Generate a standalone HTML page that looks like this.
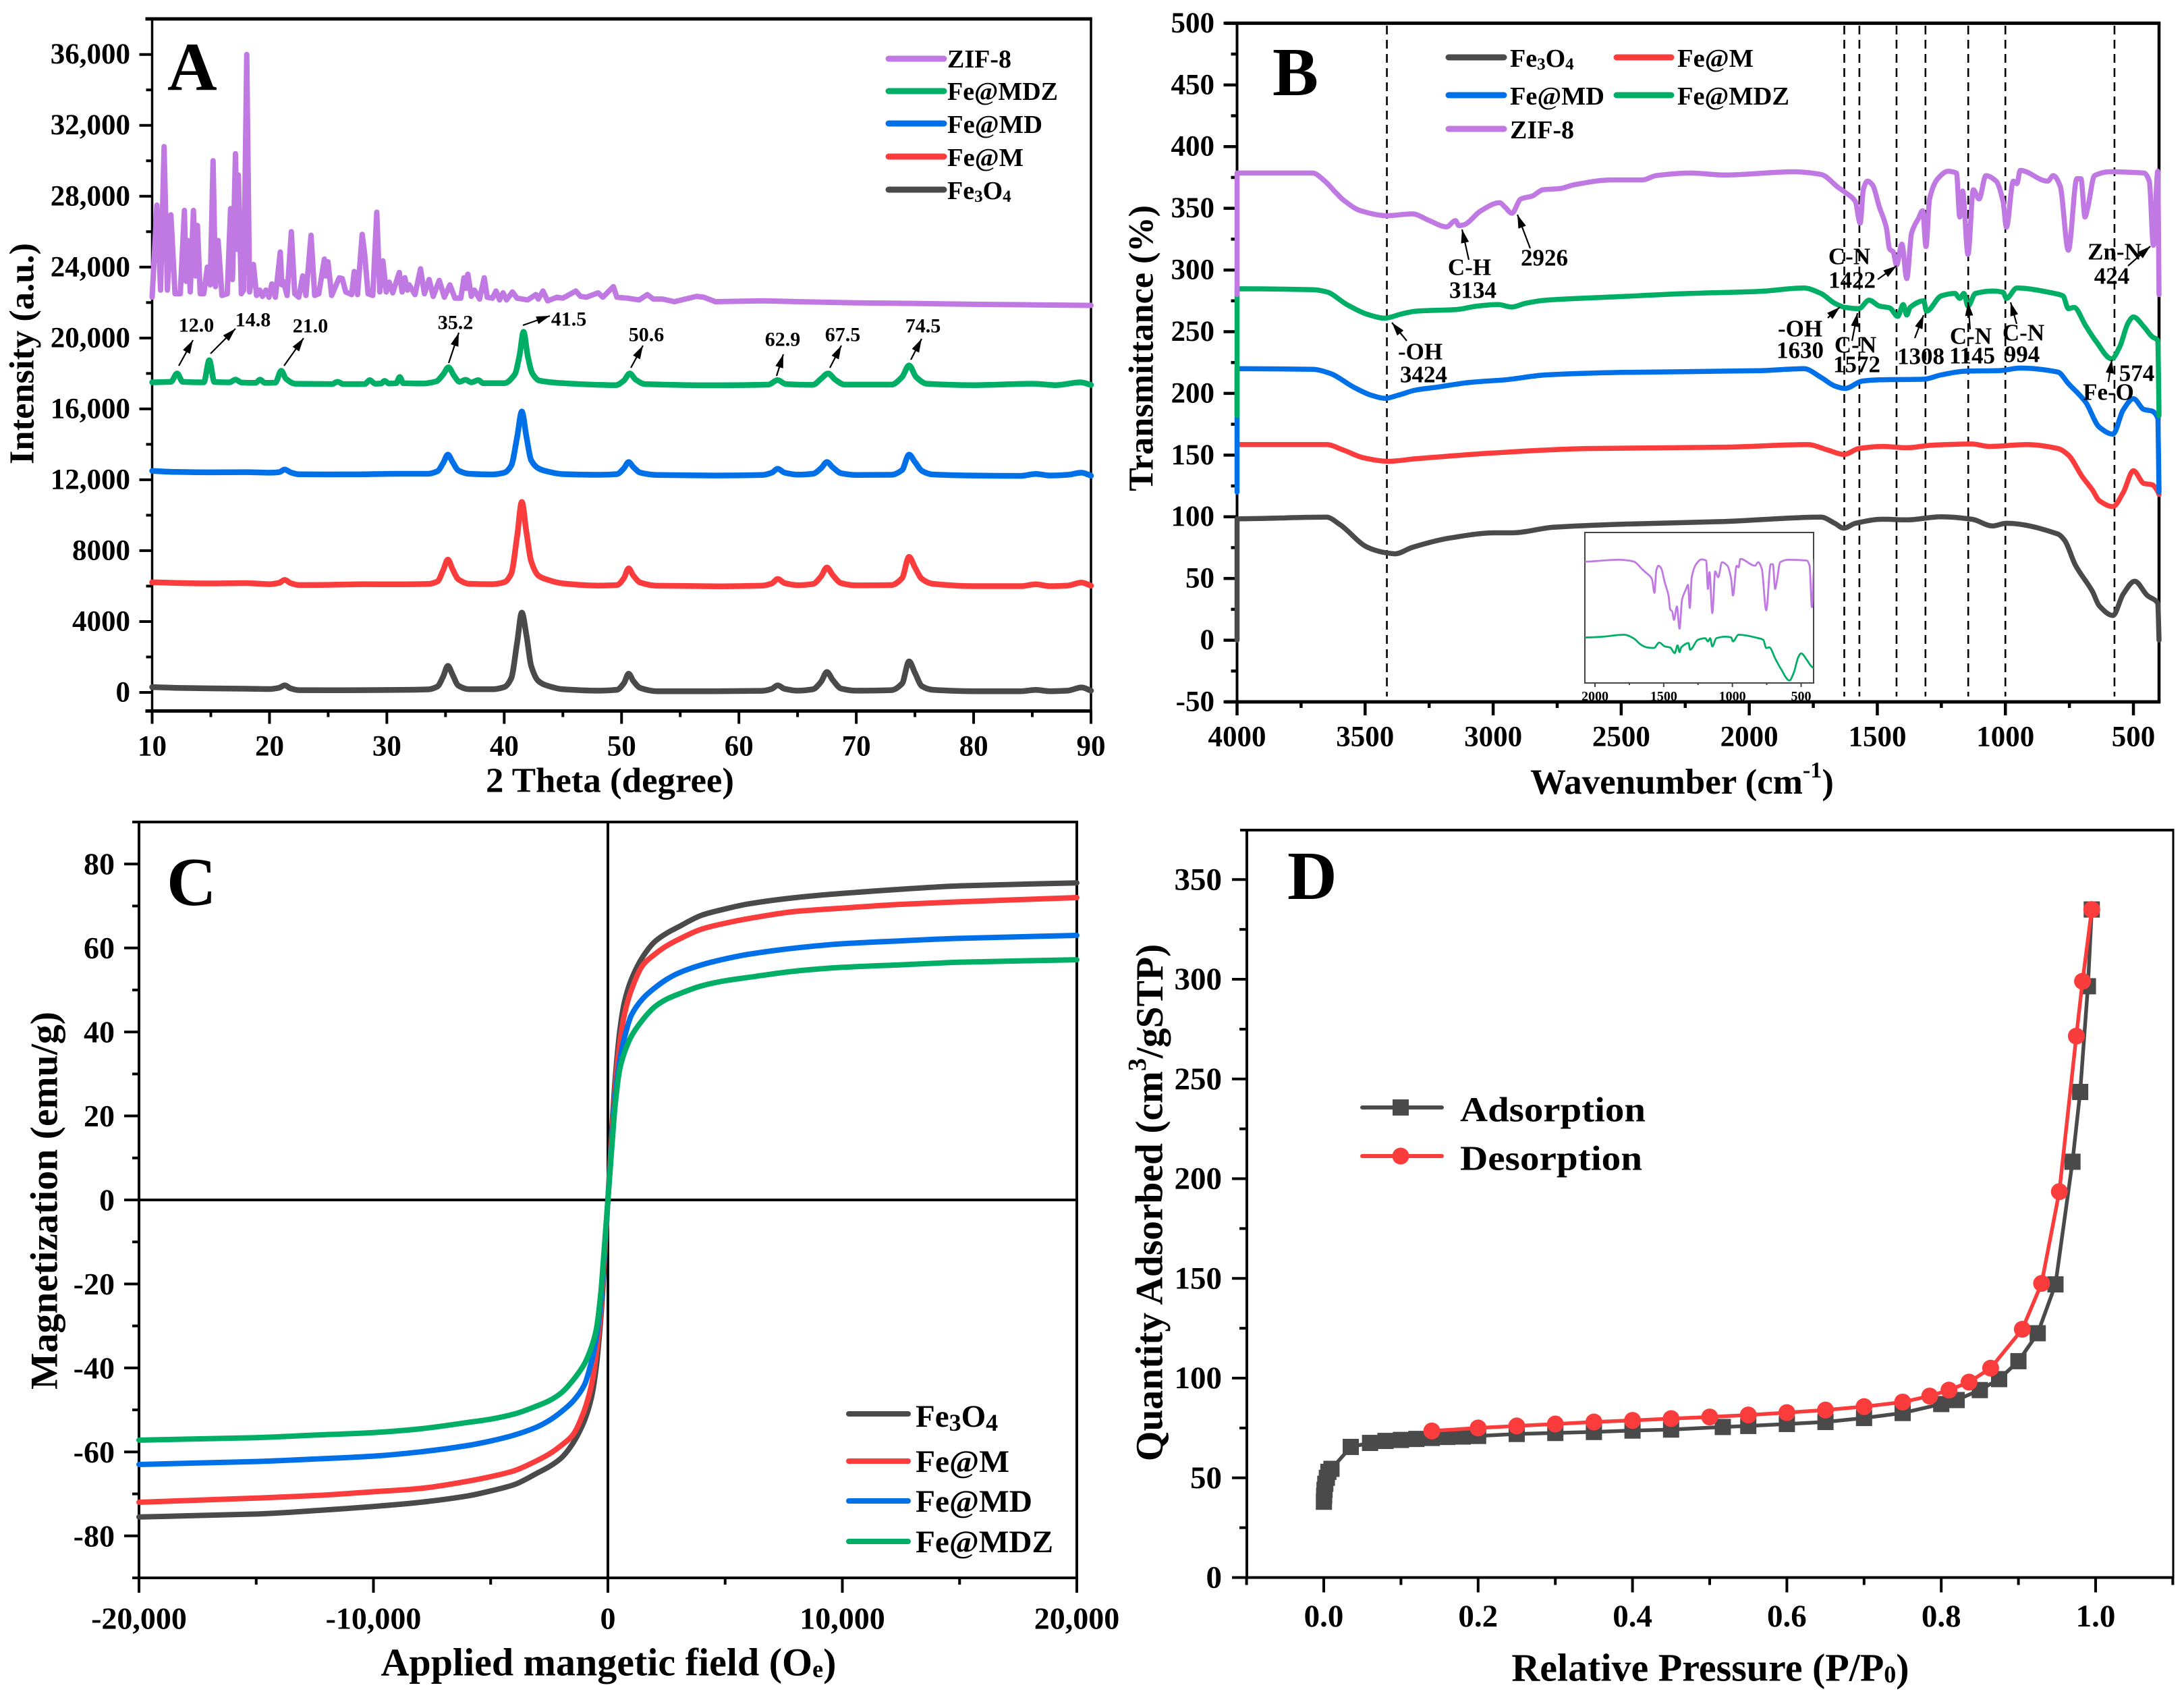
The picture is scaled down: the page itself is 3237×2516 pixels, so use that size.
<!DOCTYPE html>
<html lang="en">
<head>
<meta charset="utf-8">
<title>Fe3O4, Fe@M, Fe@MD, Fe@MDZ and ZIF-8 characterization panels</title>
<style>
html,body{margin:0;padding:0;background:#fff;}
svg{display:block;}
text{font-family:"Liberation Serif","DejaVu Serif",serif;font-weight:bold;fill:#000;}
.panel-letter{font-size:102px;}
.title{font-size:52px;text-anchor:middle;dominant-baseline:central;}
.legA{font-size:38px;dominant-baseline:central;}
.legC{font-size:47px;dominant-baseline:central;}
.legD{font-size:52px;dominant-baseline:central;}
.anA{font-size:30px;text-anchor:middle;dominant-baseline:central;}
.anB{font-size:35px;text-anchor:middle;dominant-baseline:central;}
.arrow{stroke:#000;stroke-width:2.2;fill:none;marker-end:url(#arrow-head);}
</style>
</head>
<body>
<svg id="figure" xmlns="http://www.w3.org/2000/svg" width="3237" height="2516" viewBox="0 0 3237 2516">
<defs>
<marker id="arrow-head" markerUnits="userSpaceOnUse" markerWidth="20" markerHeight="12" refX="20" refY="6" orient="auto"><path d="M0,0 L20,6 L0,12 z" fill="#000"/></marker>
<clipPath id="inset-clip"><rect x="2349" y="789" width="339" height="223"/></clipPath>
</defs>
<rect x="0" y="0" width="3237" height="2516" fill="#fff"/>

<g id="panel-a">
<text class="panel-letter" x="248" y="133">A</text>
<text class="title" x="904" y="1157" textLength="368" lengthAdjust="spacingAndGlyphs">2 Theta (degree)</text>
<text class="title" transform="rotate(-90 33 524)" x="33" y="524" textLength="328" lengthAdjust="spacingAndGlyphs">Intensity (a.u.)</text>
<g>
<line x1="1317" x2="1399" y1="87" y2="87" stroke="#c078e2" stroke-width="9" stroke-linecap="round"/>
<text class="legA" x="1404" y="88" textLength="95" lengthAdjust="spacingAndGlyphs">ZIF-8</text>
<line x1="1317" x2="1399" y1="135" y2="135" stroke="#00ae66" stroke-width="9" stroke-linecap="round"/>
<text class="legA" x="1404" y="136" textLength="164" lengthAdjust="spacingAndGlyphs">Fe@MDZ</text>
<line x1="1317" x2="1399" y1="183" y2="183" stroke="#0070e8" stroke-width="9" stroke-linecap="round"/>
<text class="legA" x="1404" y="185" textLength="141" lengthAdjust="spacingAndGlyphs">Fe@MD</text>
<line x1="1317" x2="1399" y1="232" y2="232" stroke="#fa3c3c" stroke-width="9" stroke-linecap="round"/>
<text class="legA" x="1404" y="234" textLength="113" lengthAdjust="spacingAndGlyphs">Fe@M</text>
<line x1="1317" x2="1399" y1="281" y2="281" stroke="#4a4a4a" stroke-width="9" stroke-linecap="round"/>
<text class="legA" x="1404" y="283">Fe<tspan font-size="25" dy="8">3</tspan><tspan dy="-8">O</tspan><tspan font-size="25" dy="8">4</tspan></text>
</g>
<g>
<text class="anA" x="291" y="482">12.0</text>
<text class="anA" x="375" y="474">14.8</text>
<text class="anA" x="460" y="483">21.0</text>
<text class="anA" x="675" y="478">35.2</text>
<text class="anA" x="843" y="473">41.5</text>
<text class="anA" x="958" y="496">50.6</text>
<text class="anA" x="1160" y="503">62.9</text>
<text class="anA" x="1249" y="496">67.5</text>
<text class="anA" x="1368" y="483">74.5</text>
<line class="arrow" x1="265" y1="542" x2="286" y2="504"/>
<line class="arrow" x1="312" y1="524" x2="349" y2="487"/>
<line class="arrow" x1="421" y1="542" x2="450" y2="501"/>
<line class="arrow" x1="665" y1="538" x2="680" y2="493"/>
<line class="arrow" x1="775" y1="482" x2="815" y2="468"/>
<line class="arrow" x1="935" y1="545" x2="953" y2="512"/>
<line class="arrow" x1="1151" y1="557" x2="1161" y2="525"/>
<line class="arrow" x1="1230" y1="545" x2="1247" y2="512"/>
<line class="arrow" x1="1350" y1="533" x2="1366" y2="502"/>
</g>
</g>

<g id="panel-b">
<text class="panel-letter" x="1886" y="141">B</text>
<text class="title" x="2493" y="1159" style="font-size:53px">Wavenumber (cm<tspan font-size="34" dy="-18">-1</tspan><tspan dy="18">)</tspan></text>
<text class="title" transform="rotate(-90 1692 516)" x="1692" y="516" textLength="424" lengthAdjust="spacingAndGlyphs">Transmittance (%)</text>
<g>
<line x1="2147" x2="2229" y1="85" y2="85" stroke="#4a4a4a" stroke-width="9" stroke-linecap="round"/>
<text class="legA" x="2238" y="87">Fe<tspan font-size="25" dy="8">3</tspan><tspan dy="-8">O</tspan><tspan font-size="25" dy="8">4</tspan></text>
<line x1="2396" x2="2477" y1="85" y2="85" stroke="#fa3c3c" stroke-width="9" stroke-linecap="round"/>
<text class="legA" x="2486" y="87" textLength="113" lengthAdjust="spacingAndGlyphs">Fe@M</text>
<line x1="2147" x2="2229" y1="141" y2="141" stroke="#0070e8" stroke-width="9" stroke-linecap="round"/>
<text class="legA" x="2238" y="143" textLength="140" lengthAdjust="spacingAndGlyphs">Fe@MD</text>
<line x1="2396" x2="2477" y1="141" y2="141" stroke="#00ae66" stroke-width="9" stroke-linecap="round"/>
<text class="legA" x="2486" y="143" textLength="166" lengthAdjust="spacingAndGlyphs">Fe@MDZ</text>
<line x1="2147" x2="2229" y1="191" y2="191" stroke="#c078e2" stroke-width="9" stroke-linecap="round"/>
<text class="legA" x="2238" y="193" textLength="95" lengthAdjust="spacingAndGlyphs">ZIF-8</text>
</g>
</g>

<g id="panel-c">
<text class="panel-letter" x="247" y="1341">C</text>
<text class="title" x="902" y="2463" style="font-size:58px">Applied mangetic field (O<tspan font-size="36" dy="10">e</tspan><tspan dy="-10">)</tspan></text>
<text class="title" transform="rotate(-90 66 1779)" x="66" y="1779" style="font-size:57px" textLength="560" lengthAdjust="spacingAndGlyphs">Magnetization (emu/g)</text>
<g>
<line x1="1258" x2="1346" y1="2095" y2="2095" stroke="#4a4a4a" stroke-width="8" stroke-linecap="round"/>
<text class="legC" x="1357" y="2099">Fe<tspan font-size="36" dy="9">3</tspan><tspan dy="-9">O</tspan><tspan font-size="36" dy="9">4</tspan></text>
<line x1="1258" x2="1346" y1="2165" y2="2165" stroke="#fa3c3c" stroke-width="8" stroke-linecap="round"/>
<text class="legC" x="1357" y="2166" textLength="139" lengthAdjust="spacingAndGlyphs">Fe@M</text>
<line x1="1258" x2="1346" y1="2224" y2="2224" stroke="#0070e8" stroke-width="8" stroke-linecap="round"/>
<text class="legC" x="1357" y="2225" textLength="173" lengthAdjust="spacingAndGlyphs">Fe@MD</text>
<line x1="1258" x2="1346" y1="2284" y2="2284" stroke="#00ae66" stroke-width="8" stroke-linecap="round"/>
<text class="legC" x="1357" y="2285" textLength="204" lengthAdjust="spacingAndGlyphs">Fe@MDZ</text>
</g>
</g>

<g id="panel-d">
<text class="panel-letter" x="1908" y="1332">D</text>
<text class="title" x="2535" y="2471" style="font-size:58px">Relative Pressure (P/P<tspan font-size="36" dy="10">0</tspan><tspan dy="-10">)</tspan></text>
<text class="title" transform="rotate(-90 1704 1782)" x="1704" y="1782" style="font-size:57.5px">Quantity Adsorbed (cm<tspan font-size="38" dy="-18">3</tspan><tspan dy="18">/gSTP)</tspan></text>
<g>
<line x1="2019" x2="2137" y1="1641" y2="1641" stroke="#4a4a4a" stroke-width="6" stroke-linecap="round"/>
<rect x="2064" y="1629" width="24" height="24" fill="#4a4a4a"/>
<text class="legD" x="2164" y="1645" textLength="275" lengthAdjust="spacingAndGlyphs">Adsorption</text>
<line x1="2019" x2="2137" y1="1713" y2="1713" stroke="#fa3c3c" stroke-width="6" stroke-linecap="round"/>
<circle cx="2076" cy="1713" r="12.5" fill="#fa3c3c"/>
<text class="legD" x="2164" y="1717" textLength="270" lengthAdjust="spacingAndGlyphs">Desorption</text>
</g>
</g>

<script>
/* ---------- shared colours ---------- */
const colorGrey = '#4a4a4a';
const colorRed = '#fa3c3c';
const colorBlue = '#0070e8';
const colorGreen = '#00ae66';
const colorPurple = '#c078e2';

/* ---------- panel A: XRD ---------- */
const aXTicks = [10,20,30,40,50,60,70,80,90];
const aXMinor = [15,25,35,45,55,65,75,85];
const aXLabels = ['10','20','30','40','50','60','70','80','90'];
const aYTicks = [0,4000,8000,12000,16000,20000,24000,28000,32000,36000];
const aYMinor = [2000,6000,10000,14000,18000,22000,26000,30000,34000];
const aYLabels = ['0','4000','8000','12,000','16,000','20,000','24,000','28,000','32,000','36,000'];
const xrdTheta = [10,12,15,18,20,20.8,21.3,21.8,22.5,25,28,31,33.5,34.3,34.8,35.2,35.6,36.1,37,39,40,40.6,41.1,41.5,41.9,42.3,42.9,43.5,45,48,49.6,50.2,50.6,51,51.6,53,58,62,62.8,63.3,63.9,65,66.3,67,67.5,68,68.7,70,73,73.9,74.5,75,75.6,76.5,80,84,85.3,86.5,88,89.2,90];
const xrdFe3O4 = [300,260,230,210,190,260,400,230,130,120,130,140,170,330,900,1500,1000,380,180,180,300,800,2800,4500,3200,1500,650,420,180,100,150,520,1060,650,250,70,70,90,200,400,200,100,180,600,1150,700,220,100,130,500,1750,1100,350,150,70,70,140,70,100,280,100];
const xrdFeM = [6220,6180,6150,6170,6110,6180,6350,6170,6060,6070,6110,6100,6120,6260,6900,7500,6950,6380,6130,6110,6220,6700,8800,10750,9000,7400,6600,6400,6150,6030,6060,6450,7000,6600,6200,6020,5990,6030,6150,6400,6170,6050,6120,6550,7050,6620,6170,6040,6060,6450,7650,7050,6400,6130,6000,6000,6100,6000,6030,6200,6020];
const xrdFeMD = [12500,12440,12420,12430,12400,12430,12580,12420,12310,12300,12310,12340,12340,12480,12950,13420,13000,12520,12340,12300,12400,12800,14400,15850,14400,13100,12650,12500,12320,12280,12320,12650,13000,12720,12400,12270,12240,12270,12400,12620,12400,12290,12340,12650,13000,12700,12370,12270,12280,12550,13420,13000,12500,12300,12240,12220,12330,12240,12280,12400,12230];
const mdzTheta = [10,11.6,12.13,12.6,14.4,14.87,15.3,16.6,17.1,17.6,18.8,19.2,19.6,20.5,21,21.4,22.2,25.3,25.8,26.3,28.1,28.55,29,29.5,29.8,30.2,30.8,31.1,31.4,33,34.2,34.8,35.25,35.7,36.2,36.7,37.2,37.8,38.2,40,40.9,41.3,41.65,42,42.4,43,45,49.5,50.2,50.7,51.2,52,58,62.5,63.3,64,66.3,67,67.6,68.2,69,73,73.9,74.5,75.1,76,80,85.1,87,89.1,90];
const mdzIntensity = [17500,17530,18000,17530,17500,18750,17520,17500,17650,17490,17470,17650,17470,17480,18150,17700,17420,17400,17530,17400,17400,17620,17420,17430,17580,17430,17450,17800,17450,17430,17550,17950,18350,17900,17530,17640,17500,17620,17450,17450,17950,19000,20350,19000,18000,17600,17450,17340,17600,18000,17650,17400,17330,17370,17620,17400,17360,17700,18000,17650,17370,17370,17800,18450,17800,17420,17340,17420,17340,17500,17350];
const zifTheta = [10,10.41,10.72,11.02,11.3,11.6,11.95,12.4,12.75,12.9,13.04,13.25,13.52,13.7,13.86,14.1,14.4,14.7,14.95,15.19,15.4,15.62,15.95,16.4,16.68,16.85,17.1,17.25,17.35,17.6,17.8,18.06,18.3,18.63,18.9,19.17,19.4,19.69,19.95,20.2,20.5,20.92,21.05,21.18,21.5,21.86,22.15,22.5,22.83,23.1,23.54,23.85,24.2,24.67,24.8,24.98,25.3,25.94,26.2,26.5,27,27.22,27.5,27.9,28.1,28.4,28.8,29.14,29.4,29.66,29.95,30.2,30.5,31.06,31.3,31.53,31.75,31.9,32.4,32.87,33.2,33.6,33.95,34.47,34.9,35.37,35.8,36.3,36.57,36.75,36.9,37.2,37.46,37.9,38.3,38.55,39,39.3,39.6,39.9,40.2,40.7,41.1,42,42.7,42.9,43.3,43.7,44.5,45,46.1,46.5,47,48,48.4,49.3,49.6,50.5,51.5,52.2,52.7,53.5,54.5,56.4,57,58,62,65,70,75,80,85,90];
const zifIntensity = [22300,27500,22700,30800,22700,26950,22500,22500,27200,23200,25500,22600,27200,23500,26350,22500,22500,24000,23000,30000,22900,25500,22400,22500,27300,23300,30400,25000,29200,22500,22700,36000,22600,24150,22400,22700,22350,22700,22300,23050,22300,24850,23000,23200,22400,26000,22500,22300,23500,22400,25800,22400,22500,24450,23500,24300,22400,23400,23350,22600,22450,23750,22450,25850,24800,22500,22400,27100,22600,24350,22600,23150,22550,23700,22600,23400,22700,23000,22450,23900,22500,23300,22350,23250,22300,23000,22250,22250,23400,22800,23600,22350,22700,22200,23400,22300,22250,22650,22150,22550,22150,22600,22250,22150,22450,22200,22650,22100,22300,22250,22650,22350,22300,22550,22300,22900,22300,22250,22150,22450,22200,22200,22050,22350,22300,22050,22100,22050,21980,21950,21900,21870,21840];

/* ---------- panel B: FTIR ---------- */
const bXTicks = [4000,3500,3000,2500,2000,1500,1000,500];
const bXMinor = [3750,3250,2750,2250,1750,1250,750];
const bXLabels = ['4000','3500','3000','2500','2000','1500','1000','500'];
const bYTicks = [-50,0,50,100,150,200,250,300,350,400,450,500];
const bYMinor = [-25,25,75,125,175,225,275,325,375,425,475];
const bYLabels = ['-50','0','50','100','150','200','250','300','350','400','450','500'];
const bReferenceLines = [3415,1629,1570,1425,1312,1145,1000,574];
const ftirZifWave = [4000,4000,3705,3657,3611,3584,3517,3415,3316,3249,3182,3147,3134,3115,3048,2975,2954,2927,2892,2847,2806,2739,2686,2538,2417,2364,2230,2095,1827,1720,1653,1626,1586,1567,1554,1538,1519,1492,1465,1452,1438,1425,1404,1385,1366,1339,1323,1310,1296,1264,1224,1191,1178,1167,1146,1125,1103,1076,1036,1009,996,969,955,942,835,813,786,754,721,705,689,678,652,593,459,438,422,405,400];
const ftirZifValue = [280,378.6,378.6,372,362,356.6,348,344,345.5,340,335,340,336,336.6,348,354.5,351,346,357.6,360,365,366,369,373,373,376.5,378.6,377,379.6,377.5,367,363,355.6,338,366,372,369,351,334.6,317,314.7,304,321,293,330,342,348,319,357.6,374,380,378.6,343,364,312.6,365,357.6,376.5,372,355.6,334.6,372,370,380.7,372,376.5,368,316,374,374,343,351,376.5,379.6,378.6,372,320,380,280];
const ftirMdzWave = [4000,4000,3705,3651,3571,3490,3423,3356,3303,3142,3061,2981,2927,2874,2793,2498,2230,1961,1787,1720,1666,1626,1572,1532,1492,1452,1420,1399,1385,1372,1319,1308,1251,1197,1178,1162,1146,1117,1051,1009,996,955,808,775,754,732,687,647,585,553,521,500,459,427,405,400];
const ftirMdzValue = [182,284.8,284,282.3,272,264,261,264.5,266.6,268,270.8,272,270,273,275.6,278.5,281,282.7,285.4,281,273,269.7,268.7,275.6,270.8,269.3,262.4,272,263.5,269.7,275,266.6,279,281,277,281,270.8,281,283,282,277,285.4,281,279,268.7,269.7,255,242.5,228,238,257,262,254,246,243,182];
const ftirMdWave = [4000,4000,3705,3638,3544,3477,3423,3370,3303,3222,3088,2954,2793,2498,1961,1787,1720,1666,1626,1559,1492,1319,1251,1157,1023,942,795,754,687,633,580,540,500,459,427,405,400];
const ftirMdValue = [120,220,219.5,216.3,205,198.6,196,198.6,202.7,205,209,211,215,217,218.4,220,213,206,204,210,211,211.5,215,218,218.5,220.5,217.3,208,193,172.6,167,186.6,195.7,187,185.6,180,120];
const ftirMWave = [4000,3651,3584,3504,3410,3303,3008,2632,2095,1772,1692,1631,1572,1479,1384,1290,1130,1063,915,795,754,700,660,633,580,540,500,459,427,405,400];
const ftirMValue = [158.5,158.5,154,147.7,145,147,151.6,155.3,156.4,158.5,154,150.5,155.3,157,156,158,159,157,158.5,155.3,150,132.6,121.7,113,108.3,119.6,137.3,127,126,120.6,118];
const ftirFe3O4Wave = [4000,4000,3651,3598,3490,3423,3383,3316,3169,2994,2927,2766,2498,2095,1720,1666,1631,1586,1479,1384,1251,1130,1051,996,795,768,727,660,633,580,540,495,446,405,400];
const ftirFe3O4Value = [0,98.4,99.7,93.6,75.2,71,70,75.2,82.8,87,87,91.5,94,96.2,99.7,94.7,90.8,94.7,98,97.5,100,98,92.6,94.7,86,80.7,61,39.5,27.7,20,37.4,47.8,36.3,30,0];
const insetTicks = [2000,1500,1000,500];
const insetMinor = [1750,1250,750];
const insetLabels = ['2000','1500','1000','500'];

/* ---------- panel C: magnetization ---------- */
const cXTicks = [-20000,-10000,0,10000,20000];
const cXMinor = [-15000,-5000,5000,15000];
const cXLabels = ['-20,000','-10,000','0','10,000','20,000'];
const cYTicks = [-80,-60,-40,-20,0,20,40,60,80];
const cYMinor = [-90,-70,-50,-30,-10,10,30,50,70,90];
const cYLabels = ['-80','-60','-40','-20','0','20','40','60','80'];
const field = [-20000,-15000,-12500,-10000,-8000,-6000,-5000,-4000,-3000,-2500,-2000,-1500,-1000,-700,-500,-300,-200,-100,0,100,200,300,500,700,1000,1500,2000,2500,3000,4000,5000,6000,8000,10000,12500,15000,20000];
const magFe3O4 = [-75.5,-74.8,-74,-73,-72,-70.5,-69.3,-67.8,-65,-63.5,-61.5,-58,-52.5,-47,-40,-28,-20,-10,0,10,20,28,40,47,52.5,58,61.5,63.5,65,67.8,69.3,70.5,72,73,74,74.8,75.5];
const magFeM = [-72,-71,-70.4,-69.5,-68.7,-67,-65.9,-64.5,-62,-60.5,-58.5,-56,-50,-44,-37,-26,-18,-9,0,9,18,26,37,44,50,56,58.5,60.5,62,64.5,65.9,67,68.7,69.5,70.4,71,72];
const magFeMD = [-63,-62.3,-61.7,-61,-60,-58.5,-57.4,-56,-54,-52.5,-50.5,-48,-44,-38.5,-33,-24,-16,-8,0,8,16,24,33,38.5,44,48,50.5,52.5,54,56,57.4,58.5,60,61,61.7,62.3,63];
const magFeMDZ = [-57.2,-56.6,-56,-55.4,-54.5,-53,-52.2,-51,-49,-47.8,-46,-43,-39,-35,-31,-22,-15,-7.5,0,7.5,15,22,31,35,39,43,46,47.8,49,51,52.2,53,54.5,55.4,56,56.6,57.2];

/* ---------- panel D: isotherm ---------- */
const dXTicks = [0,0.2,0.4,0.6,0.8,1.0];
const dXMinor = [-0.1,0.1,0.3,0.5,0.7,0.9,1.1];
const dXLabels = ['0.0','0.2','0.4','0.6','0.8','1.0'];
const dYTicks = [0,50,100,150,200,250,300,350];
const dYMinor = [25,75,125,175,225,275,325];
const dYLabels = ['0','50','100','150','200','250','300','350'];
const adsPressure = [0.0002,0.0005,0.001,0.002,0.004,0.006,0.01,0.035,0.06,0.08,0.1,0.12,0.14,0.16,0.18,0.2,0.25,0.3,0.35,0.4,0.45,0.517,0.55,0.6,0.65,0.7,0.75,0.8,0.82,0.85,0.875,0.9,0.925,0.948,0.97,0.98,0.99,0.995];
const adsQuantity = [38,41,44,47,50,53,54.5,65.5,67.5,68.5,69,69.5,70,70.5,70.7,71,72,72.5,73,73.7,74.2,75.5,76,77,78,80,82.5,87,89,94,99.5,108.5,122.5,147,208.5,243.5,296.5,335];
const desPressure = [0.995,0.983,0.975,0.953,0.93,0.905,0.864,0.836,0.81,0.785,0.75,0.7,0.65,0.6,0.55,0.5,0.45,0.4,0.35,0.3,0.25,0.2,0.14];
const desQuantity = [335,299,271.5,193.5,147.5,124.5,105,98,94,91,88,85.7,84,82.7,81.5,80.5,79.7,78.8,78,77,76,75,73.5];

/* ---------- helpers ---------- */
const NS = 'http://www.w3.org/2000/svg';
function mk(tag, parent, attrs, name) {
  const el = document.createElementNS(NS, tag);
  for (const k in attrs) el.setAttribute(k, attrs[k]);
  
  
  parent.appendChild(el);
  return el;
}
function scale(d0, d1, r0, r1) {
  return function (v) { return r0 + (v - d0) * (r1 - r0) / (d1 - d0); };
}
function drawAxes(g, sx, sy, c) {
  const p = c.prefix;
  /* frame */
  mk('line', g, {x1:c.left - c.ext, x2:c.right + c.wr / 2, y1:c.top, y2:c.top, stroke:'#000', 'stroke-width':c.wt}, p + '-top-frame');
  mk('line', g, {x1:c.left - c.ext, x2:c.right + c.wr / 2, y1:c.bottom, y2:c.bottom, stroke:'#000', 'stroke-width':c.wt}, p + '-x-axis-line');
  mk('line', g, {x1:c.left, x2:c.left, y1:c.top, y2:c.bottom, stroke:'#000', 'stroke-width':c.wl}, p + '-y-axis-line');
  mk('line', g, {x1:c.right, x2:c.right, y1:c.top, y2:c.bottom, stroke:'#000', 'stroke-width':c.wr}, p + '-right-frame');
  /* ticks */
  c.xTicks.forEach(function (v, i) {
    const x = sx(v);
    mk('line', g, {x1:x, x2:x, y1:c.bottom, y2:c.bottom + c.major, stroke:'#000', 'stroke-width':c.tw}, p + '-x-tick');
    const t = mk('text', g, {x:x, y:c.xLabelY, 'text-anchor':'middle', 'dominant-baseline':'central', 'font-size':c.fs}, p + '-x-tick-label');
    t.textContent = c.xLabels[i];
  });
  c.xMinor.forEach(function (v) {
    const x = sx(v);
    mk('line', g, {x1:x, x2:x, y1:c.bottom, y2:c.bottom + c.minor, stroke:'#000', 'stroke-width':c.tw}, p + '-x-minor-tick');
  });
  c.yTicks.forEach(function (v, i) {
    const y = sy(v);
    mk('line', g, {x1:c.left - c.major, x2:c.left, y1:y, y2:y, stroke:'#000', 'stroke-width':c.tw}, p + '-y-tick');
    const t = mk('text', g, {x:c.yLabelX, y:y, 'text-anchor':'end', 'dominant-baseline':'central', 'font-size':c.fs}, p + '-y-tick-label');
    t.textContent = c.yLabels[i];
  });
  c.yMinor.forEach(function (v) {
    const y = sy(v);
    mk('line', g, {x1:c.left - c.minor, x2:c.left, y1:y, y2:y, stroke:'#000', 'stroke-width':c.tw}, p + '-y-minor-tick');
  });
}
function pathFrom(xs, ys, sx, sy) {
  let d = '';
  const n = Math.min(xs.length, ys.length);
  for (let i = 0; i < n; i++) d += (i ? 'L' : 'M') + sx(xs[i]).toFixed(1) + ',' + sy(ys[i]).toFixed(1);
  return d;
}
/* monotone cubic through the data points: rounds corners without overshoot */
function smoothPathFrom(xs, ys, sx, sy) {
  const n = Math.min(xs.length, ys.length);
  const px = [], py = [], sec = [], tan = [];
  for (let i = 0; i < n; i++) { px.push(sx(xs[i])); py.push(sy(ys[i])); }
  for (let i = 0; i < n - 1; i++) {
    const dx = px[i + 1] - px[i];
    sec.push(Math.abs(dx) < 0.01 ? 0 : (py[i + 1] - py[i]) / dx);
  }
  for (let i = 0; i < n; i++) {
    if (i === 0) tan.push(sec[0]);
    else if (i === n - 1) tan.push(sec[n - 2]);
    else if (sec[i - 1] * sec[i] <= 0) tan.push(0);
    else tan.push(2 * sec[i - 1] * sec[i] / (sec[i - 1] + sec[i]));
  }
  let d = 'M' + px[0].toFixed(1) + ',' + py[0].toFixed(1);
  for (let i = 0; i < n - 1; i++) {
    const dx = px[i + 1] - px[i];
    if (Math.abs(dx) < 0.01) { d += 'L' + px[i + 1].toFixed(1) + ',' + py[i + 1].toFixed(1); continue; }
    d += 'C' + (px[i] + dx / 3).toFixed(1) + ',' + (py[i] + tan[i] * dx / 3).toFixed(1) + ' ' +
         (px[i + 1] - dx / 3).toFixed(1) + ',' + (py[i + 1] - tan[i + 1] * dx / 3).toFixed(1) + ' ' +
         px[i + 1].toFixed(1) + ',' + py[i + 1].toFixed(1);
  }
  return d;
}
function curve(g, xs, ys, sx, sy, color, width, name, smooth) {
  const d = smooth ? smoothPathFrom(xs, ys, sx, sy) : pathFrom(xs, ys, sx, sy);
  return mk('path', g, {d:d, fill:'none', stroke:color, 'stroke-width':width, 'stroke-linejoin':'round', 'stroke-linecap':'round'}, name);
}

/* ---------- panel A ---------- */
(function () {
  const g = document.getElementById('panel-a');
  const sx = scale(10, 90, 225.5, 1617);
  const sy = scale(0, 36000, 1026, 80.7);
  const layer = mk('g', g, {}, 'panel-a-plot-area');
  g.insertBefore(layer, g.firstChild);
  drawAxes(layer, sx, sy, {prefix:'panel-a', left:225.5, right:1617, top:28, bottom:1053.5, ext:10, wt:5, wl:3.5, wr:3.5, tw:4, major:19, minor:9,
    xTicks:aXTicks, xMinor:aXMinor, xLabels:aXLabels, yTicks:aYTicks, yMinor:aYMinor, yLabels:aYLabels, xLabelY:1106, yLabelX:193, fs:43});
  curve(layer, xrdTheta, xrdFe3O4, sx, sy, colorGrey, 8.5, 'series-a-fe3o4', true);
  curve(layer, xrdTheta, xrdFeM, sx, sy, colorRed, 8.5, 'series-a-fe-m', true);
  curve(layer, xrdTheta, xrdFeMD, sx, sy, colorBlue, 8.5, 'series-a-fe-md', true);
  curve(layer, mdzTheta, mdzIntensity, sx, sy, colorGreen, 8.5, 'series-a-fe-mdz', true);
  curve(layer, zifTheta, zifIntensity, sx, sy, colorPurple, 8, 'series-a-zif8', false);
})();

/* ---------- panel B ---------- */
(function () {
  const g = document.getElementById('panel-b');
  const sx = scale(4000, 400, 1833.5, 3200);
  const sy = scale(-50, 500, 1040, 34.4);
  const layer = mk('g', g, {}, 'panel-b-plot-area');
  g.insertBefore(layer, g.firstChild);
  drawAxes(layer, sx, sy, {prefix:'panel-b', left:1833.5, right:3200, top:34.4, bottom:1040, ext:18, wt:5, wl:4, wr:4.5, tw:4.5, major:20, minor:9,
    xTicks:bXTicks, xMinor:bXMinor, xLabels:bXLabels, yTicks:bYTicks, yMinor:bYMinor, yLabels:bYLabels, xLabelY:1092, yLabelX:1800, fs:43});
  bReferenceLines.forEach(function (w) {
    mk('line', layer, {x1:sx(w), x2:sx(w), y1:38, y2:1032, stroke:'#000', 'stroke-width':2.6, 'stroke-dasharray':'13 8'}, 'reference-line');
  });
  curve(layer, ftirFe3O4Wave, ftirFe3O4Value, sx, sy, colorGrey, 7.5, 'series-b-fe3o4', true);
  curve(layer, ftirMWave, ftirMValue, sx, sy, colorRed, 7.5, 'series-b-fe-m', true);
  curve(layer, ftirMdWave, ftirMdValue, sx, sy, colorBlue, 7.5, 'series-b-fe-md', true);
  curve(layer, ftirMdzWave, ftirMdzValue, sx, sy, colorGreen, 7.5, 'series-b-fe-mdz', true);
  curve(layer, ftirZifWave, ftirZifValue, sx, sy, colorPurple, 7.5, 'series-b-zif8', true);

  /* inset */
  const inset = mk('g', layer, {}, 'panel-b-inset');
  mk('rect', inset, {x:2349, y:789, width:339, height:223, fill:'#fff', stroke:'#444', 'stroke-width':2}, 'inset-frame');
  const ix = scale(2000, 500, 2364, 2669.5);
  const iy = scale(380, 285, 828.9, 941);
  insetTicks.forEach(function (v, i) {
    mk('line', inset, {x1:ix(v), x2:ix(v), y1:1012, y2:1018, stroke:'#444', 'stroke-width':2}, 'inset-x-tick');
    const t = mk('text', inset, {x:ix(v), y:1028 + 4, 'text-anchor':'middle', 'dominant-baseline':'central', 'font-size':20}, 'inset-x-tick-label');
    t.textContent = insetLabels[i];
  });
  insetMinor.forEach(function (v) {
    mk('line', inset, {x1:ix(v), x2:ix(v), y1:1012, y2:1015, stroke:'#444', 'stroke-width':2}, 'inset-x-minor-tick');
  });
  const clipped = mk('g', inset, {'clip-path':'url(#inset-clip)'}, 'inset-plot-area');
  curve(clipped, ftirZifWave.slice(1, -1), ftirZifValue.slice(1, -1), ix, iy, colorPurple, 2.8, 'inset-series-zif8', true);
  curve(clipped, ftirMdzWave.slice(1, -1), ftirMdzValue.slice(1, -1), ix, iy, colorGreen, 2.8, 'inset-series-fe-mdz', true);

  /* annotations */
  const notes = [
    ['-OH',2105,521,'label-oh-3424'],['3424',2110,555,'label-3424'],
    ['C-H',2178,396,'label-ch-3134'],['3134',2183,430,'label-3134'],
    ['2926',2289,382,'label-2926'],
    ['C-N',2741,380,'label-cn-1422'],['1422',2745,415,'label-1422'],
    ['-OH',2668,487,'label-oh-1630'],['1630',2668,519,'label-1630'],
    ['C-N',2750,511,'label-cn-1572'],['1572',2752,540,'label-1572'],
    ['1308',2847,528,'label-1308'],
    ['C-N',2921,498,'label-cn-1145'],['1145',2923,527,'label-1145'],
    ['C-N',2999,493,'label-cn-994'],['994',2997,525,'label-994'],
    ['Zn-N',3134,373,'label-zn-n-424'],['424',3130,409,'label-424'],
    ['574',3167,553,'label-574'],['Fe-O',3125,581,'label-fe-o']
  ];
  notes.forEach(function (n) {
    const t = mk('text', layer, {x:n[1], y:n[2], 'class':'anB'}, n[3]);
    t.textContent = n[0];
  });
  const arrows = [
    [2085,505,2063,478,'arrow-oh-3424'],[2177,385,2167,340,'arrow-ch-3134'],[2268,368,2249,318,'arrow-2926'],
    [2783,414,2811,394,'arrow-cn-1422'],[2709,471,2727,455,'arrow-oh-1630'],[2745,505,2753,464,'arrow-cn-1572'],
    [2838,501,2851,467,'arrow-1308'],[2920,488,2917,448,'arrow-cn-1145'],[2989,480,2980,448,'arrow-cn-994'],
    [3125,566,3130,533,'arrow-fe-o'],[3154,394,3187,365,'arrow-zn-n']
  ];
  arrows.forEach(function (a) {
    mk('line', layer, {x1:a[0], y1:a[1], x2:a[2], y2:a[3], 'class':'arrow'}, a[4]);
  });
})();

/* ---------- panel C ---------- */
(function () {
  const g = document.getElementById('panel-c');
  const sx = scale(-20000, 20000, 206, 1596);
  const sy = scale(-90, 90, 2338, 1218);
  const layer = mk('g', g, {}, 'panel-c-plot-area');
  g.insertBefore(layer, g.firstChild);
  drawAxes(layer, sx, sy, {prefix:'panel-c', left:206, right:1596, top:1218, bottom:2338, ext:2, wt:4, wl:4, wr:4, tw:4, major:22, minor:10,
    xTicks:cXTicks, xMinor:cXMinor, xLabels:cXLabels, yTicks:cYTicks, yMinor:cYMinor, yLabels:cYLabels, xLabelY:2398, yLabelX:170, fs:46});
  mk('line', layer, {x1:sx(-20000), x2:sx(20000), y1:sy(0), y2:sy(0), stroke:'#000', 'stroke-width':4}, 'zero-field-horizontal-line');
  mk('line', layer, {x1:sx(0), x2:sx(0), y1:1218, y2:2338, stroke:'#000', 'stroke-width':4}, 'zero-field-vertical-line');
  curve(layer, field, magFe3O4, sx, sy, colorGrey, 8, 'series-c-fe3o4', true);
  curve(layer, field, magFeM, sx, sy, colorRed, 8, 'series-c-fe-m', true);
  curve(layer, field, magFeMD, sx, sy, colorBlue, 8, 'series-c-fe-md', true);
  curve(layer, field, magFeMDZ, sx, sy, colorGreen, 8, 'series-c-fe-mdz', true);
})();

/* ---------- panel D ---------- */
(function () {
  const g = document.getElementById('panel-d');
  const sx = scale(0, 1, 1962, 3106);
  const sy = scale(0, 350, 2337.5, 1303.3);
  const layer = mk('g', g, {}, 'panel-d-plot-area');
  g.insertBefore(layer, g.firstChild);
  drawAxes(layer, sx, sy, {prefix:'panel-d', left:1848, right:3221, top:1230, bottom:2337.5, ext:10, wt:4, wl:4, wr:3, tw:4, major:22, minor:11,
    xTicks:dXTicks, xMinor:dXMinor, xLabels:dXLabels, yTicks:dYTicks, yMinor:dYMinor, yLabels:dYLabels, xLabelY:2395, yLabelX:1811, fs:47});
  curve(layer, adsPressure, adsQuantity, sx, sy, colorGrey, 5.5, 'series-d-adsorption-line', false);
  adsPressure.forEach(function (p, i) {
    mk('rect', layer, {x:sx(p) - 12, y:sy(adsQuantity[i]) - 12, width:24, height:24, fill:colorGrey}, 'adsorption-point');
  });
  curve(layer, desPressure, desQuantity, sx, sy, colorRed, 5.5, 'series-d-desorption-line', false);
  desPressure.forEach(function (p, i) {
    mk('circle', layer, {cx:sx(p), cy:sy(desQuantity[i]), r:12.5, fill:colorRed}, 'desorption-point');
  });
})();
</script>
</svg>
</body>
</html>
